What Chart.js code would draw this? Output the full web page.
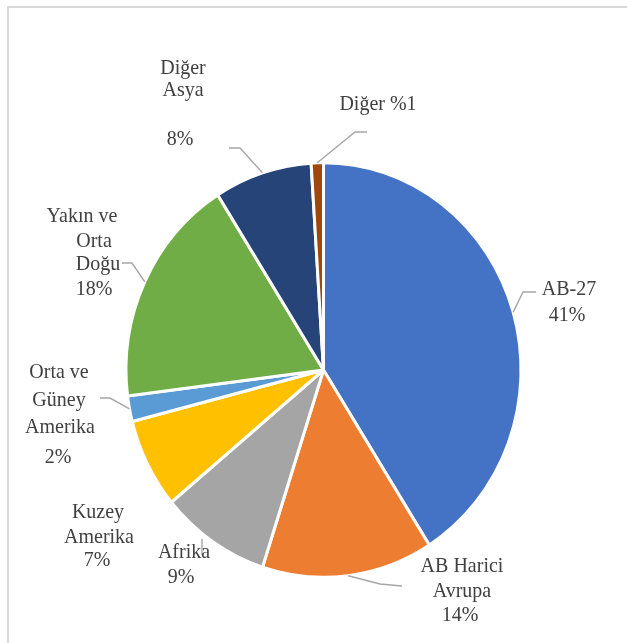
<!DOCTYPE html>
<html><head><meta charset="utf-8">
<script src="https://cdn.jsdelivr.net/npm/chart.js@4"></script>
<style>
html,body{margin:0;padding:0;background:#fff;overflow:hidden}
#wrap{position:relative;width:627px;height:643px;overflow:hidden}
#frame{position:absolute;left:7px;top:6px;width:700px;height:700px;border-left:2px solid #d9d9d9;border-top:2px solid #d9d9d9}
canvas{position:absolute;left:0;top:0}
</style></head><body>
<div id="wrap"><div id="frame"></div><canvas id="c" width="627" height="643"></canvas></div>
<script>
// ---- data ----
const categories = ['AB-27','AB Harici Avrupa','Afrika','Kuzey Amerika','Orta ve Güney Amerika','Yakın ve Orta Doğu','Diğer Asya','Diğer'];
const values = [41, 14, 9, 7, 2, 18, 8, 1];
const colors = ['#4472C4','#ED7D31','#A5A5A5','#FFC000','#5B9BD5','#70AD47','#264478','#9E480E'];
const labelTemplates = ['AB-27\n{p}%','AB Harici\nAvrupa\n{p}%','Afrika\n{p}%','Kuzey\nAmerika\n{p}%','Orta ve\nGüney\nAmerika\n{p}%','Yakın ve\nOrta\nDoğu\n{p}%','Diğer\nAsya\n\n{p}%','Diğer %{p}'];

// ---- layout (picture coordinates) ----
const S = 1.05; // vertical stretch of the picture
const FONT = '20px "Liberation Serif"';
const labelLines = [
  [[569,295],[567,321]],
  [[462,572],[462,597],[460,621]],
  [[184,558],[181,583]],
  [[98,518],[99,543],[97,566]],
  [[59,378],[59,406],[60,433],[58,463]],
  [[82,222],[94,247],[98,270],[94,295]],
  [[183,74],[183,96],[183,120],[180,145]],
  [[378,110]]
];
const leaders = [
  {pts:[[536,292],[523,292]], toArc:true},
  {pts:[[402,586],[380,584]], toArc:true},
  {pts:[[202,555],[202,539]], toArc:false},
  null,
  {pts:[[100,398],[110,398]], toArc:true},
  {pts:[[122,263],[132,263]], toArc:true},
  {pts:[[229,148],[240,148]], toArc:true},
  {pts:[[367,132],[355,132]], toArc:true}
];

const labelPlugin = {
  id: 'labelPlugin',
  beforeDraw(chart){ const c = chart.ctx; c.save(); c.scale(1, S); },
  afterDraw(chart){
    const c = chart.ctx;
    const arcs = chart.getDatasetMeta(0).data;
    c.strokeStyle = '#a6a6a6';
    c.lineWidth = 1.4;
    leaders.forEach((ld, i) => {
      if (!ld) return;
      c.beginPath();
      ld.pts.forEach((p, j) => { const y = p[1] / S; if (j === 0) c.moveTo(p[0], y); else c.lineTo(p[0], y); });
      if (ld.toArc) {
        const a = arcs[i];
        const mid = (a.startAngle + a.endAngle) / 2;
        c.lineTo(a.x + Math.cos(mid) * a.outerRadius, a.y + Math.sin(mid) * a.outerRadius);
      }
      c.stroke();
    });
    c.fillStyle = '#404040';
    c.font = FONT;
    c.textAlign = 'center';
    c.textBaseline = 'alphabetic';
    labelTemplates.forEach((t, i) => {
      const lines = t.replace('{p}', values[i]).split('\n');
      lines.forEach((ln, j) => {
        const pos = labelLines[i][j];
        if (ln && pos) c.fillText(ln, pos[0], pos[1] / S);
      });
    });
    c.restore();
  }
};

new Chart(document.getElementById('c'), {
  type: 'pie',
  data: {
    labels: categories,
    datasets: [{
      data: values,
      backgroundColor: colors,
      borderColor: '#ffffff',
      borderWidth: 3,
      radius: 197.5,
      clip: false
    }]
  },
  options: {
    responsive: false,
    animation: false,
    events: [],
    layout: { padding: { left: 40, right: 20, top: 81.8, bottom: 20 } },
    plugins: { legend: { display: false }, tooltip: { enabled: false } }
  },
  plugins: [labelPlugin]
});
</script>
</body></html>
